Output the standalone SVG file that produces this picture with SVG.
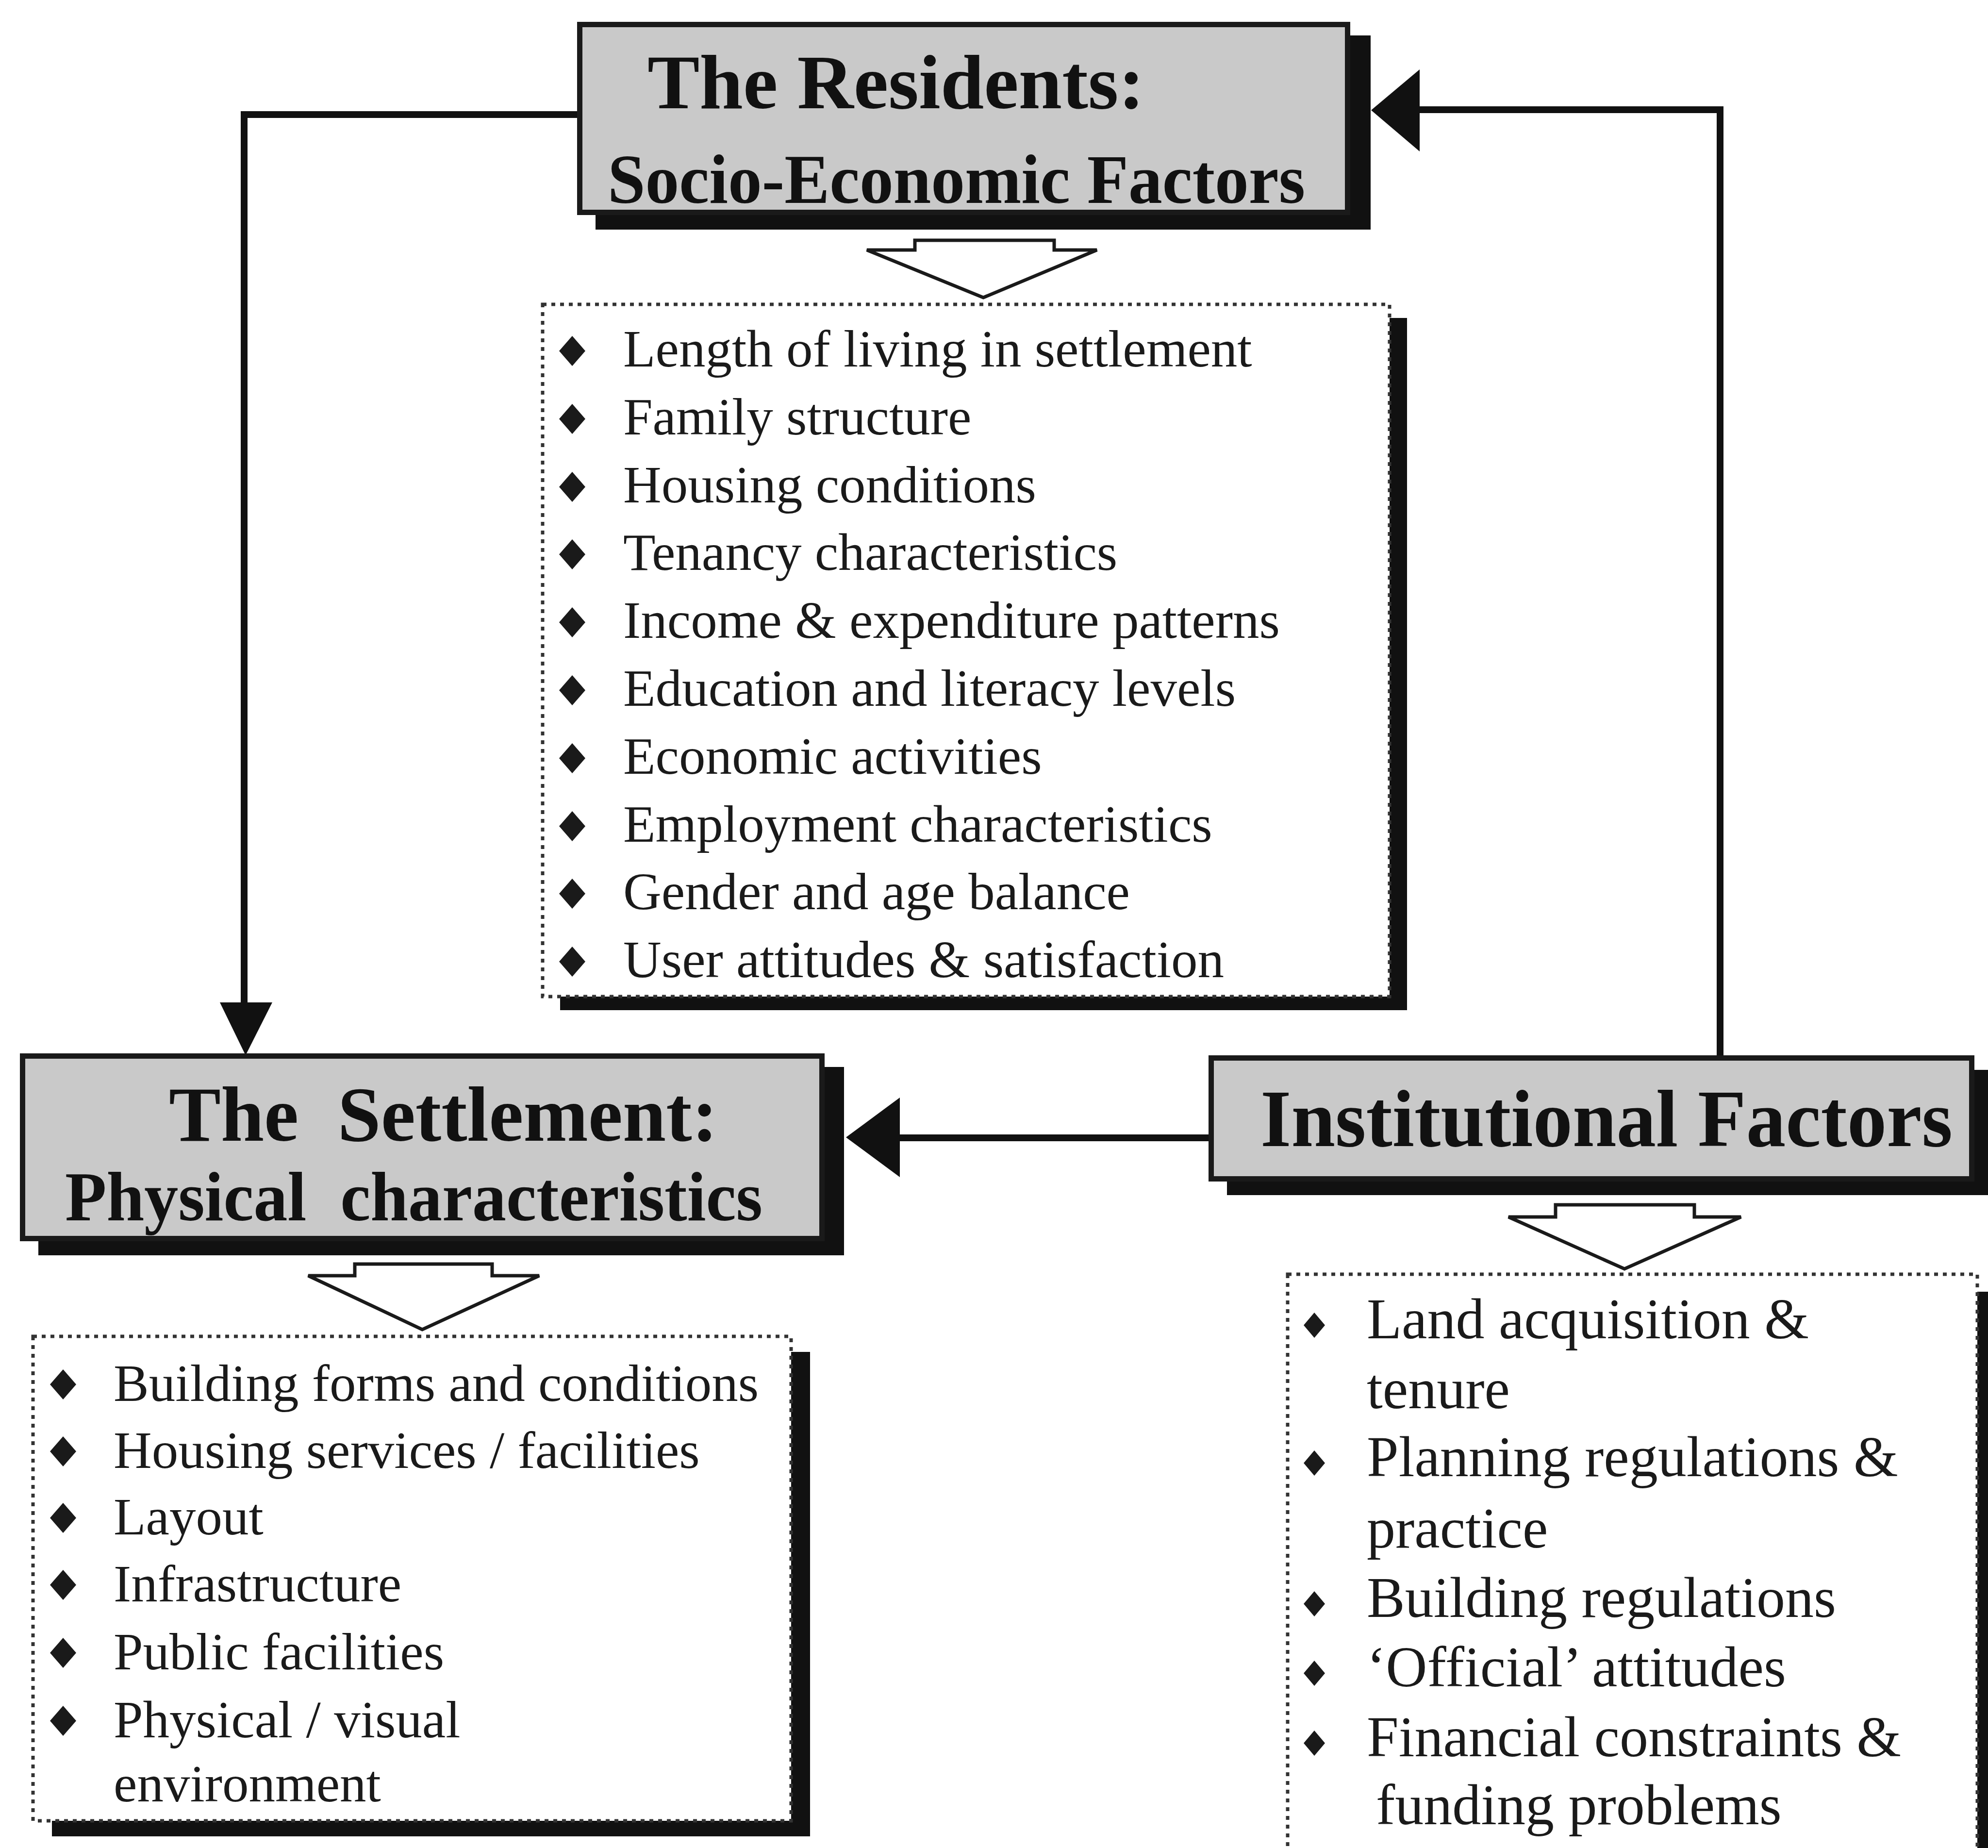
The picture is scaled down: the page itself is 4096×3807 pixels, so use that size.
<svg xmlns="http://www.w3.org/2000/svg" width="4096" height="3807" viewBox="0 0 4096 3807">
  <style>
    .title { font-family: "Liberation Serif", "Times New Roman", serif; font-weight: bold; fill: #111; white-space: pre; }
    .item { font-family: "Liberation Serif", "Times New Roman", serif; font-size: 109px; fill: #1a1a1a; white-space: pre; }
    .item-lg { font-size: 118px; }
    .box { fill: #c9c9c9; stroke: #1a1a1a; stroke-width: 11; }
    .shadow { fill: #111; }
    .list { fill: #fff; stroke: #333; stroke-width: 7; stroke-dasharray: 8 10; }
    .hollow { fill: #fff; stroke: #1a1a1a; stroke-width: 7; stroke-linejoin: miter; }
    .conn { fill: none; stroke: #111; stroke-width: 14; }
    .head { fill: #111; }
    .bullet { fill: #1a1a1a; }
  </style>
  <defs>
    <polygon id="diamond" points="0,-31 27,0 0,31 -27,0"/>
    <polygon id="diamond-sm" points="0,-26 22,0 0,26 -22,0"/>
  </defs>

  <rect width="4096" height="3807" fill="#fff"/>

  <!-- connectors between the three factor boxes, plus the hollow arrows into each list -->
  <g id="connectors">
    <!-- residents -> settlement -->
    <polyline class="conn" points="1192,236 503,236 503,2070"/>
    <polygon class="head" points="453,2065 561,2065 506,2174"/>
    <!-- institutional -> residents -->
    <polyline class="conn" points="3544,2176 3544,226 2920,226"/>
    <polygon class="head" points="2925,143 2925,312 2825,227"/>
    <!-- institutional -> settlement -->
    <line class="conn" x1="2492" y1="2344" x2="1850" y2="2344"/>
    <polygon class="head" points="1854,2261 1854,2425 1743,2343"/>
    <!-- hollow arrows from headers into lists -->
    <polygon class="hollow" points="1885,495 2172,495 2172,515 2260,515 2026,613 1786,515 1885,515"/>
    <polygon class="hollow" points="731,2604 1014,2604 1014,2628 1111,2628 870,2739 635,2628 731,2628"/>
    <polygon class="hollow" points="3205,2482 3491,2482 3491,2507 3587,2507 3347,2614 3108,2507 3205,2507"/>
  </g>

  <!-- The Residents header -->
  <g id="residents">
    <rect class="shadow" x="1227" y="73" width="1597" height="400"/>
    <rect class="box" x="1194.5" y="50.5" width="1582" height="387"/>
    <text class="title" x="1334" y="223" font-size="159" textLength="1024" lengthAdjust="spacingAndGlyphs">The Residents:</text>
    <text class="title" x="1252" y="418" font-size="145" textLength="1437" lengthAdjust="spacingAndGlyphs">Socio-Economic Factors</text>
  </g>

  <!-- socio-economic factor list -->
  <g id="residents-list">
    <rect class="shadow" x="1154" y="655" width="1745" height="1426"/>
    <rect class="list" x="1118" y="627" width="1745" height="1426"/>
    <g class="bullet">
      <use href="#diamond" x="1179" y="723"/>
      <use href="#diamond" x="1179" y="863"/>
      <use href="#diamond" x="1179" y="1003"/>
      <use href="#diamond" x="1179" y="1142"/>
      <use href="#diamond" x="1179" y="1282"/>
      <use href="#diamond" x="1179" y="1422"/>
      <use href="#diamond" x="1179" y="1562"/>
      <use href="#diamond" x="1179" y="1702"/>
      <use href="#diamond" x="1179" y="1841"/>
      <use href="#diamond" x="1179" y="1981"/>
    </g>
    <text class="item" x="1284" y="755">Length of living in settlement</text>
    <text class="item" x="1284" y="895">Family structure</text>
    <text class="item" x="1284" y="1035">Housing conditions</text>
    <text class="item" x="1284" y="1174">Tenancy characteristics</text>
    <text class="item" x="1284" y="1314">Income &amp; expenditure patterns</text>
    <text class="item" x="1284" y="1454">Education and literacy levels</text>
    <text class="item" x="1284" y="1594">Economic activities</text>
    <text class="item" x="1284" y="1734">Employment characteristics</text>
    <text class="item" x="1284" y="1873">Gender and age balance</text>
    <text class="item" x="1284" y="2013">User attitudes &amp; satisfaction</text>
  </g>

  <!-- The Settlement header -->
  <g id="settlement">
    <rect class="shadow" x="79" y="2198" width="1660" height="388"/>
    <rect class="box" x="46.5" y="2175.5" width="1647" height="376"/>
    <text class="title" x="348" y="2350" font-size="160" textLength="1131" lengthAdjust="spacingAndGlyphs">The  Settlement:</text>
    <text class="title" x="134" y="2514" font-size="145" textLength="1437" lengthAdjust="spacingAndGlyphs">Physical  characteristics</text>
  </g>

  <!-- physical characteristics list -->
  <g id="settlement-list">
    <rect class="shadow" x="107" y="2785" width="1562" height="998"/>
    <rect class="list" x="68" y="2753" width="1562" height="998"/>
    <g class="bullet">
      <use href="#diamond" x="130" y="2852"/>
      <use href="#diamond" x="130" y="2990"/>
      <use href="#diamond" x="130" y="3127"/>
      <use href="#diamond" x="130" y="3265"/>
      <use href="#diamond" x="130" y="3405"/>
      <use href="#diamond" x="130" y="3545"/>
    </g>
    <text class="item" x="234" y="2886">Building forms and conditions</text>
    <text class="item" x="234" y="3024">Housing services / facilities</text>
    <text class="item" x="234" y="3161">Layout</text>
    <text class="item" x="234" y="3299">Infrastructure</text>
    <text class="item" x="234" y="3439">Public facilities</text>
    <text class="item" x="234" y="3579">Physical / visual</text>
    <text class="item" x="234" y="3711">environment</text>
  </g>

  <!-- Institutional Factors header -->
  <g id="institutional">
    <rect class="shadow" x="2528" y="2204" width="1580" height="258"/>
    <rect class="box" x="2495.5" y="2179.5" width="1567" height="249"/>
    <text class="title" x="2597" y="2361" font-size="168" textLength="1426" lengthAdjust="spacingAndGlyphs">Institutional Factors</text>
  </g>

  <!-- institutional factor list -->
  <g id="institutional-list">
    <rect class="shadow" x="2689" y="2661" width="1430" height="1200"/>
    <rect class="list" x="2653" y="2625" width="1421" height="1220"/>
    <g class="bullet">
      <use href="#diamond-sm" x="2708" y="2730"/>
      <use href="#diamond-sm" x="2708" y="3014"/>
      <use href="#diamond-sm" x="2708" y="3304"/>
      <use href="#diamond-sm" x="2708" y="3447"/>
      <use href="#diamond-sm" x="2708" y="3591"/>
    </g>
    <text class="item item-lg" x="2816" y="2757">Land acquisition &amp;</text>
    <text class="item item-lg" x="2816" y="2901">tenure</text>
    <text class="item item-lg" x="2816" y="3041">Planning regulations &amp;</text>
    <text class="item item-lg" x="2816" y="3188">practice</text>
    <text class="item item-lg" x="2816" y="3331">Building regulations</text>
    <text class="item item-lg" x="2816" y="3474">‘Official’ attitudes</text>
    <text class="item item-lg" x="2816" y="3618">Financial constraints &amp;</text>
    <text class="item item-lg" x="2835" y="3758">funding problems</text>
  </g>
</svg>
